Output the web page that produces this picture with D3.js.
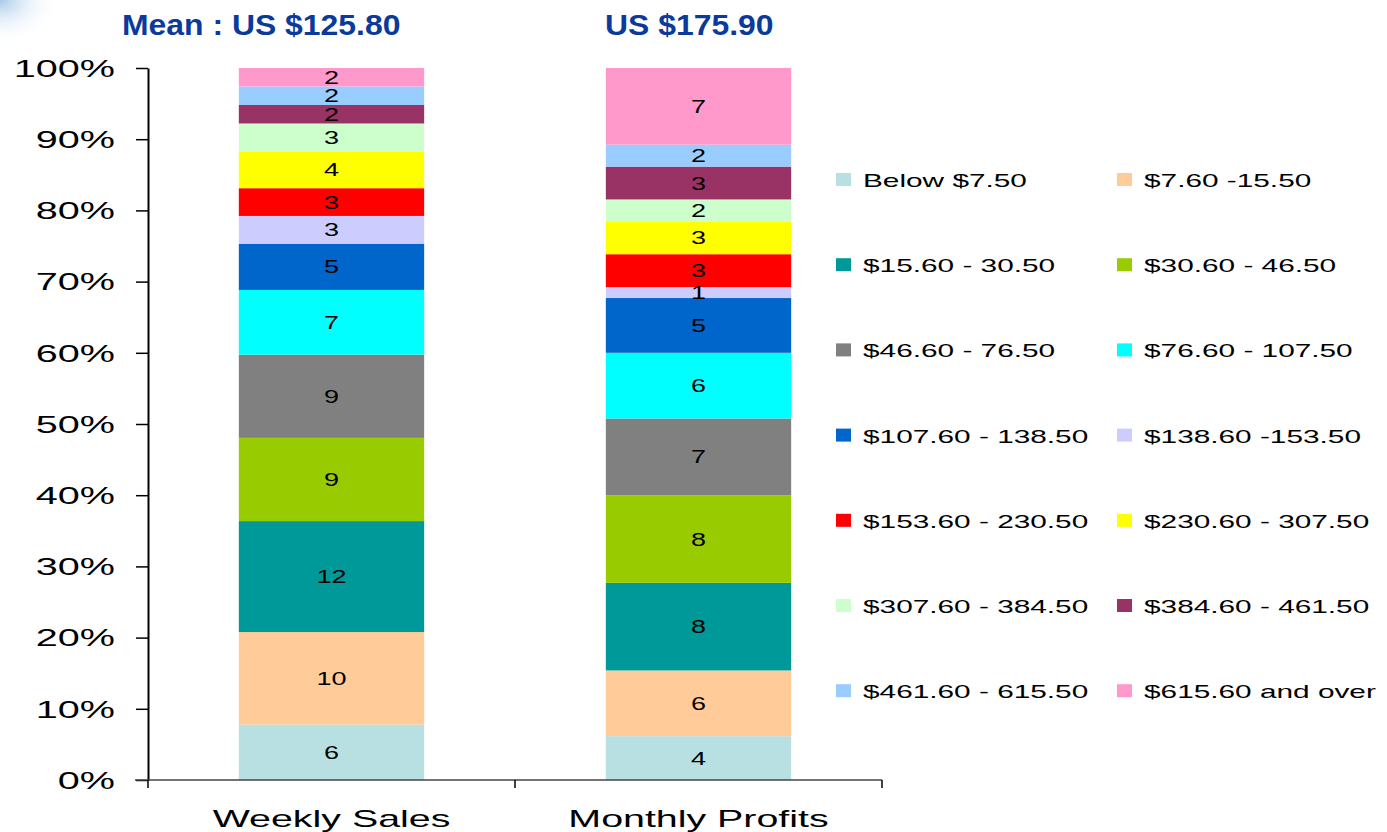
<!DOCTYPE html>
<html>
<head>
<meta charset="utf-8">
<script src="https://cdn.jsdelivr.net/npm/d3@7"></script>
<style>
  html, body { margin: 0; padding: 0; background: #fff; }
  svg { display: block; }
  text { font-family: "Liberation Sans", Arial, sans-serif; }
</style>
</head>
<body>
<svg id="chart" width="1387" height="832"></svg>
<script>
// ---- data ----
const categories = ["Weekly Sales", "Monthly Profits"];
const titles = ["Mean : US $125.80", "US $175.90"];
const brackets = [
  "Below $7.50", "$7.60 -15.50", "$15.60 - 30.50", "$30.60 - 46.50",
  "$46.60 - 76.50", "$76.60 - 107.50", "$107.60 - 138.50", "$138.60 -153.50",
  "$153.60 - 230.50", "$230.60 - 307.50", "$307.60 - 384.50", "$384.60 - 461.50",
  "$461.60 - 615.50", "$615.60 and over"
];
const weeklySales    = [6, 10, 12, 9, 9, 7, 5, 3, 3, 4, 3, 2, 2, 2];
const monthlyProfits = [4, 6, 8, 8, 7, 6, 5, 1, 3, 3, 2, 3, 2, 7];
const colors = [
  "#B8E0E3", "#FFCC99", "#009999", "#99CC00", "#808080", "#00FFFF", "#0066CC",
  "#CCCCFF", "#FF0000", "#FFFF00", "#CCFFCC", "#993366", "#99CCFF", "#FF99CC"
];
const yTicks = [0, 0.1, 0.2, 0.3, 0.4, 0.5, 0.6, 0.7, 0.8, 0.9, 1.0];

// ---- build table ----
const seriesByCat = [weeklySales, monthlyProfits];
const table = categories.map((c, i) => {
  const row = { cat: c };
  brackets.forEach((b, j) => row[b] = seriesByCat[i][j]);
  return row;
});
const stacked = d3.stack().keys(brackets).offset(d3.stackOffsetExpand)(table);

// ---- layout ----
const svg = d3.select("#chart");
const mLeft = 148, mRight = 882, mTop = 68, mBottom = 780;

// stretch helper: widen text horizontally
function stretch(sel, k) {
  sel.each(function () {
    const w = this.getComputedTextLength();
    d3.select(this).attr("textLength", w * k).attr("lengthAdjust", "spacingAndGlyphs");
  });
}

// corner glow
const defs = svg.append("defs");
const rg = defs.append("radialGradient").attr("id", "glow")
  .attr("cx", 0).attr("cy", 0).attr("r", 1).attr("gradientUnits", "objectBoundingBox");
rg.append("stop").attr("offset", "0%").attr("stop-color", "#9ec3e6").attr("stop-opacity", 0.9);
rg.append("stop").attr("offset", "45%").attr("stop-color", "#d6e6f5").attr("stop-opacity", 0.6);
rg.append("stop").attr("offset", "100%").attr("stop-color", "#ffffff").attr("stop-opacity", 0);
svg.append("rect").attr("x", 0).attr("y", 0).attr("width", 60).attr("height", 45).attr("fill", "url(#glow)");

const x = d3.scaleBand().domain(categories).range([mLeft, mRight]).paddingInner(0.495).paddingOuter(0.2475);
const y = d3.scaleLinear().domain([0, 1]).range([mBottom, mTop]);
const color = d3.scaleOrdinal().domain(brackets).range(colors);

// bars
const layers = svg.append("g").selectAll("g").data(stacked).join("g")
  .attr("fill", d => color(d.key));
layers.selectAll("rect").data(d => d).join("rect")
  .attr("x", d => x(d.data.cat))
  .attr("width", x.bandwidth())
  .attr("y", d => y(d[1]))
  .attr("height", d => y(d[0]) - y(d[1]));

// bar labels
const lbl = svg.append("g").selectAll("g").data(stacked).join("g");
lbl.selectAll("text").data(d => d.map(v => ({ v, key: d.key }))).join("text")
  .attr("x", d => x(d.v.data.cat) + x.bandwidth() / 2)
  .attr("y", d => (y(d.v[0]) + y(d.v[1])) / 2 + 6.5)
  .attr("text-anchor", "middle")
  .attr("font-size", 18)
  .attr("fill", "#000")
  .text(d => d.v.data[d.key])
  .call(stretch, 1.5);

// y axis
const yAxis = svg.append("g").attr("transform", `translate(${mLeft},0)`)
  .call(d3.axisLeft(y).tickValues(yTicks).tickFormat(d3.format(".0%")).tickSize(12).tickSizeOuter(0).tickPadding(21));
yAxis.select(".domain").attr("stroke", "#000").attr("stroke-width", 2);
yAxis.selectAll(".tick line").attr("stroke", "#000").attr("stroke-width", 1.5);
yAxis.selectAll(".tick text").attr("font-size", 23).attr("fill", "#000")
  .attr("font-family", "Liberation Sans, Arial, sans-serif")
  .attr("dy", "0.36em")
  .call(stretch, 1.72);

// x axis
const xAxis = svg.append("g").attr("transform", `translate(0,${mBottom})`)
  .call(d3.axisBottom(x).tickSize(0).tickPadding(30));
xAxis.select(".domain").remove();
xAxis.selectAll(".tick text").attr("font-size", 24).attr("fill", "#000")
  .attr("font-family", "Liberation Sans, Arial, sans-serif")
  .call(stretch, 1.64);
svg.append("line").attr("x1", mLeft - 13).attr("x2", mRight).attr("y1", mBottom).attr("y2", mBottom)
  .attr("stroke", "#444").attr("stroke-width", 1.5);
const bounds = d3.range(categories.length + 1).map(i => mLeft + i * x.step());
svg.append("g").selectAll("line").data(bounds).join("line")
  .attr("x1", d => d).attr("x2", d => d).attr("y1", mBottom).attr("y2", mBottom + 8)
  .attr("stroke", "#000").attr("stroke-width", 1.5);

// titles
svg.append("g").selectAll("text").data(titles).join("text")
  .attr("x", (d, i) => i === 0 ? 122 : 605)
  .attr("y", 35)
  .attr("font-size", 29)
  .attr("font-weight", "bold")
  .attr("fill", "#0a3a9c")
  .text(d => d)
  .call(stretch, 1.1);

// legend
const legend = svg.append("g");
const li = legend.selectAll("g").data(brackets).join("g")
  .attr("transform", (d, i) => `translate(${i % 2 === 0 ? 836 : 1117},${180 + Math.floor(i / 2) * 85.2})`);
li.append("rect").attr("x", 0).attr("y", -7).attr("width", 15).attr("height", 13)
  .attr("fill", d => color(d));
li.append("text").attr("x", 27).attr("y", 7).attr("font-size", 18.5).attr("fill", "#000")
  .text(d => d)
  .call(stretch, 1.61);
</script>
</body>
</html>
